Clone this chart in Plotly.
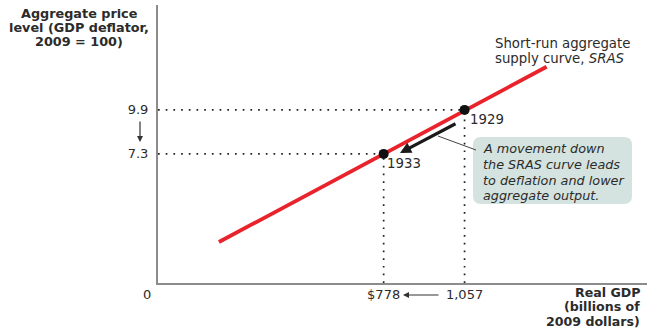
import plotly.graph_objects as go

# Data
sras_x = [210, 1340]
sras_y = [2.09, 12.45]
point_years = ["1929", "1933"]
point_gdp = [1057, 778]
point_price = [9.9, 7.3]
y_tick_vals = [7.3, 9.9]
y_tick_text = ["7.3", "9.9"]
x_tick_vals = [778, 1057]
x_tick_text = ["$778", "1,057"]

X_RANGE = [0, 1686]
Y_RANGE = [-0.33, 16.1]
FONT = "DejaVu Sans"
TXT = "#2b2b2b"

# plot area geometry (pixels)
L, T, B, W, H = 158, 5, 46, 647, 329
PW, PH = W - L, H - T - B


def px(x, y):
    """pixel position -> paper coords"""
    return (x - L) / PW, (H - B - y) / PH


fig = go.Figure()

# dotted guide lines
for gx, py in zip(point_gdp, point_price):
    fig.add_trace(go.Scatter(x=[X_RANGE[0], gx], y=[py, py], mode="lines",
                             line=dict(color="#222", width=1.7, dash="1.7px,6px"),
                             hoverinfo="skip", showlegend=False))
    fig.add_trace(go.Scatter(x=[gx, gx], y=[Y_RANGE[0], py], mode="lines",
                             line=dict(color="#222", width=1.7, dash="1.7px,6px"),
                             hoverinfo="skip", showlegend=False))

# SRAS line
fig.add_trace(go.Scatter(x=sras_x, y=sras_y, mode="lines",
                         line=dict(color="#e8232b", width=3.8),
                         hoverinfo="skip", showlegend=False))

# points
fig.add_trace(go.Scatter(x=point_gdp, y=point_price, mode="markers",
                         marker=dict(color="#111", size=10),
                         hoverinfo="skip", showlegend=False))

# callout box (rounded rect, paper coords)
bx0, by1 = px(473, 137)
bx1, by0 = px(632, 204)
rx, ry = 8 / PW, 8 / PH
path = (f"M {bx0+rx},{by1} L {bx1-rx},{by1} Q {bx1},{by1} {bx1},{by1-ry} "
        f"L {bx1},{by0+ry} Q {bx1},{by0} {bx1-rx},{by0} L {bx0+rx},{by0} "
        f"Q {bx0},{by0} {bx0},{by0+ry} L {bx0},{by1-ry} Q {bx0},{by1} {bx0+rx},{by1} Z")
fig.add_shape(type="path", path=path, xref="paper", yref="paper",
              fillcolor="#d4e3df", line=dict(width=0), layer="below")
# leader line
lx0, ly0 = px(476, 150)
lx1, ly1 = px(438, 136)
fig.add_shape(type="line", xref="paper", yref="paper", x0=lx0, y0=ly0, x1=lx1, y1=ly1,
              line=dict(color="#444", width=1))

ann = []


def text(x, y, s, size=13, anchor="left", bold=False, italic=False):
    xp, yp = px(x, y)
    ann.append(dict(x=xp, y=yp, xref="paper", yref="paper", xanchor=anchor, yanchor="middle",
                    showarrow=False, text=f"<b>{s}</b>" if bold else s,
                    font=dict(family=FONT, size=size, color=TXT,
                              style="italic" if italic else "normal")))


box_lines = ["A movement down", "the SRAS curve leads", "to deflation and lower", "aggregate output."]
for i, s in enumerate(box_lines):
    text(481, 148 + 16 * i, s, size=12.8, italic=True)

# year labels
text(468, 119, point_years[0], size=13.3)
text(385, 163, point_years[1], size=13.3)

# SRAS label
text(493, 43, "Short-run aggregate", size=13.3)
text(493, 58, "supply curve, <i>SRAS</i>", size=13.3)

# y-axis title
for i, s in enumerate(["Aggregate price", "level (GDP deflator,", "2009 = 100)"]):
    text(79, 13 + 14.5 * i, s, size=12.8, anchor="center", bold=True)

# x-axis title
for i, s in enumerate(["Real GDP", "(billions of", "2009 dollars)"]):
    text(642, 292 + 14.5 * i, s, size=12.6, anchor="right", bold=True)

# zero
text(147, 294, "0", size=13, anchor="center")

# thick arrow along the curve
tx0, ty0 = px(400, 153)
fig.add_annotation(x=tx0, y=ty0, xref="paper", yref="paper", ax=57, ay=-30,
                   showarrow=True, arrowhead=2, arrowsize=0.7, arrowwidth=3.2,
                   arrowcolor="#1a1a1a", text="")
# arrow 9.9 -> 7.3
ax_, ay_ = px(140, 142)
fig.add_annotation(x=ax_, y=ay_, xref="paper", yref="paper", ax=0, ay=-22,
                   showarrow=True, arrowhead=2, arrowsize=1, arrowwidth=1.2,
                   arrowcolor="#333", text="")
# arrow 1,057 -> $778
gx_, gy_ = px(403, 295)
fig.add_annotation(x=gx_, y=gy_, xref="paper", yref="paper", ax=37, ay=0,
                   showarrow=True, arrowhead=2, arrowsize=1, arrowwidth=1.2,
                   arrowcolor="#333", text="")

for a in ann:
    fig.add_annotation(**a)

fig.update_layout(
    width=W, height=H,
    margin=dict(l=L, r=0, t=T, b=B),
    plot_bgcolor="white", paper_bgcolor="white",
    xaxis=dict(range=X_RANGE, showgrid=False, zeroline=False, showline=True,
               linecolor="#8c8c8c", linewidth=2, tickvals=x_tick_vals, ticktext=x_tick_text,
               ticks="", ticklabelstandoff=-2,
               tickfont=dict(family=FONT, size=13, color=TXT)),
    yaxis=dict(range=Y_RANGE, showgrid=False, zeroline=False, showline=True,
               linecolor="#8c8c8c", linewidth=2, tickvals=y_tick_vals, ticktext=y_tick_text,
               ticks="", ticklabelstandoff=5,
               tickfont=dict(family=FONT, size=13, color=TXT)),
)

fig.write_html("out.html")
